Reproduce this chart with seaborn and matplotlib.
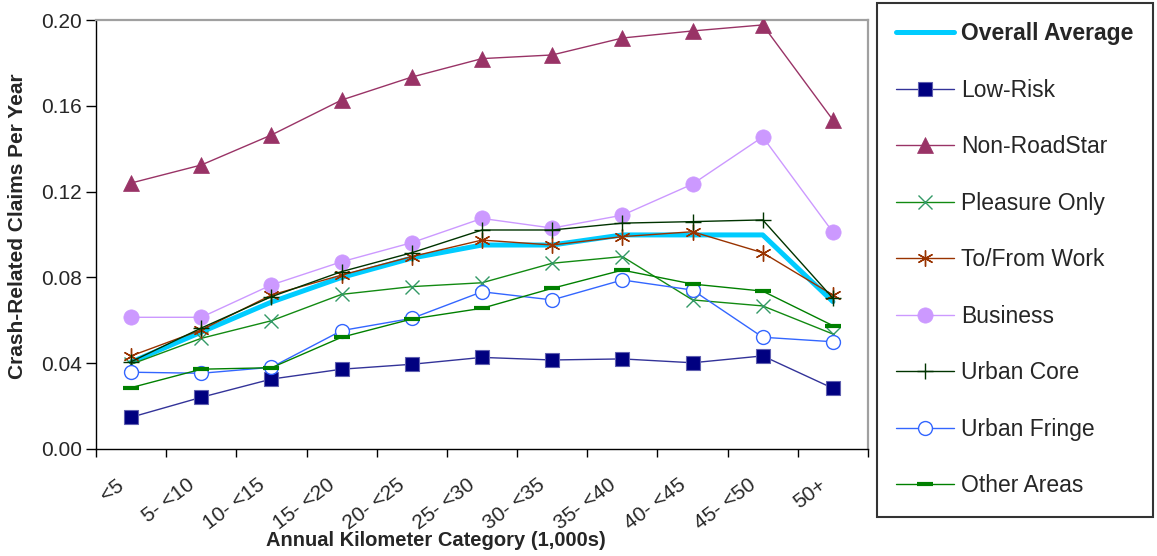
import matplotlib
matplotlib.use("Agg")
import matplotlib.pyplot as plt
import seaborn as sns
import pandas as pd
import numpy as np
from matplotlib.ticker import FixedLocator, FormatStrFormatter

categories = ["<5", "5- <10", "10- <15", "15- <20", "20- <25", "25- <30",
              "30- <35", "35- <40", "40- <45", "45- <50", "50+"]

overall_average = [0.0405, 0.0545, 0.0685, 0.0800, 0.0890, 0.0951, 0.0951, 0.0998, 0.0998, 0.0998, 0.0687]
low_risk        = [0.0148, 0.0241, 0.0326, 0.0372, 0.0395, 0.0427, 0.0415, 0.0420, 0.0402, 0.0434, 0.0283]
non_roadstar    = [0.1240, 0.1324, 0.1464, 0.1627, 0.1734, 0.1820, 0.1837, 0.1916, 0.1949, 0.1977, 0.1534]
pleasure_only   = [0.0395, 0.0516, 0.0598, 0.0721, 0.0757, 0.0775, 0.0866, 0.0897, 0.0695, 0.0667, 0.0536]
to_from_work    = [0.0434, 0.0555, 0.0718, 0.0811, 0.0897, 0.0974, 0.0951, 0.0990, 0.1013, 0.0915, 0.0718]
business        = [0.0614, 0.0614, 0.0765, 0.0873, 0.0962, 0.1075, 0.1030, 0.1090, 0.1235, 0.1455, 0.1011]
urban_core      = [0.0407, 0.0564, 0.0710, 0.0827, 0.0915, 0.1021, 0.1021, 0.1053, 0.1060, 0.1068, 0.0703]
urban_fringe    = [0.0358, 0.0353, 0.0381, 0.0552, 0.0609, 0.0733, 0.0695, 0.0788, 0.0741, 0.0521, 0.0500]
other_areas     = [0.0286, 0.0372, 0.0379, 0.0521, 0.0606, 0.0656, 0.0749, 0.0834, 0.0769, 0.0736, 0.0575]

series_names = ["Overall Average", "Low-Risk", "Non-RoadStar", "Pleasure Only", "To/From Work",
                "Business", "Urban Core", "Urban Fringe", "Other Areas"]
series_values = [overall_average, low_risk, non_roadstar, pleasure_only, to_from_work,
                 business, urban_core, urban_fringe, other_areas]
y_ticks = [0.00, 0.04, 0.08, 0.12, 0.16, 0.20]

rows = []
for name, vals in zip(series_names, series_values):
    for i, (c, v) in enumerate(zip(categories, vals)):
        rows.append({"series": name, "pos": i, "category": c, "value": v})
df = pd.DataFrame(rows)

sns.set_theme(style="white")
plt.rcParams["font.family"] = ["Liberation Sans", "DejaVu Sans"]

styles = {
    "Overall Average": dict(color="#00CCFF", lw=3.6, marker=None, zorder=2),
    "Low-Risk": dict(color="#333399", lw=1.0, marker="s", ms=10.5, mfc="#000080", mec="#6060B0", mew=0.8, zorder=3),
    "Non-RoadStar": dict(color="#993366", lw=1.0, marker="^", ms=11, mfc="#993366", mec="#993366", mew=0.5, zorder=3),
    "Pleasure Only": dict(color="#128A12", lw=1.0, marker="x", ms=10.5, mfc="#339966", mec="#339966", mew=1.0, zorder=3),
    "To/From Work": dict(color="#993300", lw=1.0, marker=(6, 2, 0), ms=11.5, mfc="#993300", mec="#993300", mew=1.0, zorder=3),
    "Business": dict(color="#CC99FF", lw=1.0, marker="o", ms=11, mfc="#CC99FF", mec="#CC99FF", mew=0.5, zorder=3),
    "Urban Core": dict(color="#003300", lw=1.0, marker="+", ms=11, mfc="#003300", mec="#003300", mew=1.0, zorder=3),
    "Urban Fringe": dict(color="#3366FF", lw=1.0, marker="o", ms=10, mfc="white", mec="#3366FF", mew=1.0, zorder=3),
    "Other Areas": dict(color="#008000", lw=1.0, marker="_", ms=11, mfc="#008000", mec="#008000", mew=3.0, zorder=3),
}

fig = plt.figure(figsize=(11.57, 5.56), dpi=100)
ax = fig.add_axes([96 / 1157, 1 - 449 / 556, (868 - 96) / 1157, (449 - 20) / 556])

for name in series_names:
    st = styles[name]
    sub = df[df.series == name]
    kw = dict(color=st["color"], linewidth=st["lw"], zorder=st["zorder"], label=name, ax=ax)
    if st["marker"] is not None:
        kw.update(marker=st["marker"], markersize=st["ms"], markerfacecolor=st["mfc"],
                  markeredgecolor=st["mec"], markeredgewidth=st["mew"])
    sns.lineplot(data=sub, x="pos", y="value", **kw)

ax.set_xlim(-0.5, len(categories) - 0.5)
ax.set_ylim(0, 0.20)
ax.set_yticks(y_ticks)
ax.yaxis.set_major_formatter(FormatStrFormatter("%.2f"))
# label anchors sit a little left of each category centre, as in the original
ax.set_xticks(np.arange(len(categories)) - 0.21)
ax.set_xticklabels(categories, rotation=37, ha="right", va="top", rotation_mode="anchor", fontsize=15)
ax.xaxis.set_minor_locator(FixedLocator(np.arange(-0.5, len(categories), 1.0)))
ax.tick_params(axis="x", which="major", length=0, pad=19)
ax.tick_params(axis="x", which="minor", length=6, width=1, color="black", direction="out", bottom=True)
ax.tick_params(axis="y", which="major", length=7, width=1, color="black", direction="out", left=True, labelsize=15, pad=3)

for s in ["left", "bottom"]:
    ax.spines[s].set_color("black")
    ax.spines[s].set_linewidth(1.0)
for s in ["top", "right"]:
    ax.spines[s].set_color("#A0A0A0")
    ax.spines[s].set_linewidth(1.6)

ax.set_xlabel("Annual Kilometer Category (1,000s)", fontsize=14.5, fontweight="bold", va="center")
ax.set_ylabel("Crash-Related Claims Per Year", fontsize=15, fontweight="bold", va="center")
ax.xaxis.set_label_coords((436 - 96) / 772, (449 - 541) / 429)
ax.yaxis.set_label_coords((18 - 96) / 772, 0.52)

leg_ax = ax.get_legend()
if leg_ax is not None:
    leg_ax.remove()
handles, labels = ax.get_legend_handles_labels()
leg = fig.legend(handles, labels, loc="upper left", bbox_to_anchor=(877 / 1157, 1 - 3 / 556),
                 frameon=True, fontsize=16.5, labelspacing=1.46, handlelength=2.5,
                 handletextpad=0.3, borderpad=0.85, borderaxespad=0, fancybox=False)
leg.get_frame().set_edgecolor("black")
leg.get_frame().set_linewidth(1.5)
leg.get_texts()[0].set_fontweight("bold")

fig.savefig("out.png", dpi=100, facecolor="white")
